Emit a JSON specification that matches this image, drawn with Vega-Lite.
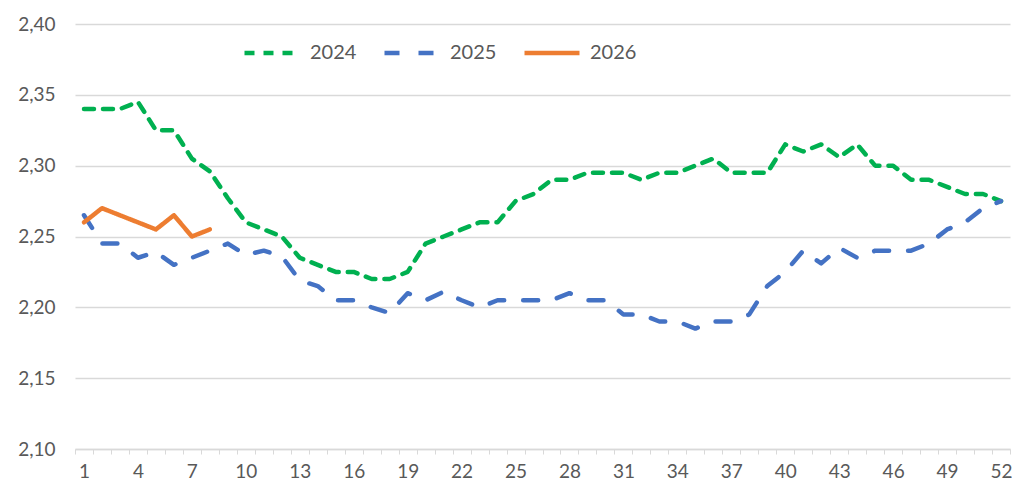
{
  "$schema": "https://vega.github.io/schema/vega-lite/v6.json",
  "width": 935,
  "height": 425,
  "autosize": "none",
  "padding": {"left": 75, "top": 24, "right": 2, "bottom": 41},
  "background": "white",
  "config": {
    "view": {"stroke": null},
    "font": "Lato",
    "axis": {"labelFont": "Lato", "labelColor": "#595959", "labelFontSize": 19},
    "legend": {"labelFont": "Lato", "labelColor": "#595959", "labelFontSize": 20}
  },
  "data": {"values": [
    {"week":1,"year":"2024","value":2.34},{"week":2,"year":"2024","value":2.34},{"week":3,"year":"2024","value":2.34},{"week":4,"year":"2024","value":2.345},{"week":5,"year":"2024","value":2.325},{"week":6,"year":"2024","value":2.325},{"week":7,"year":"2024","value":2.305},{"week":8,"year":"2024","value":2.296},{"week":9,"year":"2024","value":2.277},{"week":10,"year":"2024","value":2.26},{"week":11,"year":"2024","value":2.255},{"week":12,"year":"2024","value":2.25},{"week":13,"year":"2024","value":2.235},{"week":14,"year":"2024","value":2.23},{"week":15,"year":"2024","value":2.225},{"week":16,"year":"2024","value":2.225},{"week":17,"year":"2024","value":2.22},{"week":18,"year":"2024","value":2.22},{"week":19,"year":"2024","value":2.225},{"week":20,"year":"2024","value":2.245},{"week":21,"year":"2024","value":2.25},{"week":22,"year":"2024","value":2.255},{"week":23,"year":"2024","value":2.26},{"week":24,"year":"2024","value":2.26},{"week":25,"year":"2024","value":2.275},{"week":26,"year":"2024","value":2.28},{"week":27,"year":"2024","value":2.29},{"week":28,"year":"2024","value":2.29},{"week":29,"year":"2024","value":2.295},{"week":30,"year":"2024","value":2.295},{"week":31,"year":"2024","value":2.295},{"week":32,"year":"2024","value":2.29},{"week":33,"year":"2024","value":2.295},{"week":34,"year":"2024","value":2.295},{"week":35,"year":"2024","value":2.3},{"week":36,"year":"2024","value":2.305},{"week":37,"year":"2024","value":2.295},{"week":38,"year":"2024","value":2.295},{"week":39,"year":"2024","value":2.295},{"week":40,"year":"2024","value":2.315},{"week":41,"year":"2024","value":2.31},{"week":42,"year":"2024","value":2.315},{"week":43,"year":"2024","value":2.306},{"week":44,"year":"2024","value":2.315},{"week":45,"year":"2024","value":2.3},{"week":46,"year":"2024","value":2.3},{"week":47,"year":"2024","value":2.29},{"week":48,"year":"2024","value":2.29},{"week":49,"year":"2024","value":2.285},{"week":50,"year":"2024","value":2.28},{"week":51,"year":"2024","value":2.28},{"week":52,"year":"2024","value":2.275},
    {"week":1,"year":"2025","value":2.265},{"week":2,"year":"2025","value":2.245},{"week":3,"year":"2025","value":2.245},{"week":4,"year":"2025","value":2.235},{"week":5,"year":"2025","value":2.239},{"week":6,"year":"2025","value":2.23},{"week":7,"year":"2025","value":2.235},{"week":8,"year":"2025","value":2.24},{"week":9,"year":"2025","value":2.245},{"week":10,"year":"2025","value":2.237},{"week":11,"year":"2025","value":2.24},{"week":12,"year":"2025","value":2.236},{"week":13,"year":"2025","value":2.219},{"week":14,"year":"2025","value":2.215},{"week":15,"year":"2025","value":2.205},{"week":16,"year":"2025","value":2.205},{"week":17,"year":"2025","value":2.2},{"week":18,"year":"2025","value":2.196},{"week":19,"year":"2025","value":2.21},{"week":20,"year":"2025","value":2.205},{"week":21,"year":"2025","value":2.211},{"week":22,"year":"2025","value":2.205},{"week":23,"year":"2025","value":2.2},{"week":24,"year":"2025","value":2.205},{"week":25,"year":"2025","value":2.205},{"week":26,"year":"2025","value":2.205},{"week":27,"year":"2025","value":2.205},{"week":28,"year":"2025","value":2.21},{"week":29,"year":"2025","value":2.205},{"week":30,"year":"2025","value":2.205},{"week":31,"year":"2025","value":2.195},{"week":32,"year":"2025","value":2.195},{"week":33,"year":"2025","value":2.19},{"week":34,"year":"2025","value":2.19},{"week":35,"year":"2025","value":2.185},{"week":36,"year":"2025","value":2.19},{"week":37,"year":"2025","value":2.19},{"week":38,"year":"2025","value":2.195},{"week":39,"year":"2025","value":2.215},{"week":40,"year":"2025","value":2.225},{"week":41,"year":"2025","value":2.24},{"week":42,"year":"2025","value":2.231},{"week":43,"year":"2025","value":2.242},{"week":44,"year":"2025","value":2.235},{"week":45,"year":"2025","value":2.24},{"week":46,"year":"2025","value":2.24},{"week":47,"year":"2025","value":2.24},{"week":48,"year":"2025","value":2.245},{"week":49,"year":"2025","value":2.255},{"week":50,"year":"2025","value":2.26},{"week":51,"year":"2025","value":2.27},{"week":52,"year":"2025","value":2.275},
    {"week":1,"year":"2026","value":2.26},{"week":2,"year":"2026","value":2.27},{"week":3,"year":"2026","value":2.265},{"week":4,"year":"2026","value":2.26},{"week":5,"year":"2026","value":2.255},{"week":6,"year":"2026","value":2.265},{"week":7,"year":"2026","value":2.25},{"week":8,"year":"2026","value":2.255}
  ]},
  "mark": {"type": "line", "strokeWidth": 4.5, "strokeCap": "round", "strokeJoin": "round"},
  "encoding": {
    "x": {
      "field": "week", "type": "quantitative",
      "scale": {"domain": [0.5, 52.5], "nice": false, "zero": false},
      "axis": {
        "title": null, "grid": false,
        "values": [0.5,1.5,2.5,3.5,4.5,5.5,6.5,7.5,8.5,9.5,10.5,11.5,12.5,13.5,14.5,15.5,16.5,17.5,18.5,19.5,20.5,21.5,22.5,23.5,24.5,25.5,26.5,27.5,28.5,29.5,30.5,31.5,32.5,33.5,34.5,35.5,36.5,37.5,38.5,39.5,40.5,41.5,42.5,43.5,44.5,45.5,46.5,47.5,48.5,49.5,50.5,51.5,52.5],
        "labelExpr": "(datum.value - 0.5) % 3 == 0 && datum.value < 52 ? format(datum.value + 0.5, 'd') : ''",
        "labelOverlap": false,
        "labelOffset": 8.99,
        "labelBound": false,
        "labelFlush": false,
        "tickColor": "#d9d9d9", "tickSize": 5, "tickWidth": 1,
        "domainColor": "#d9d9d9", "domainWidth": 1.5,
        "labelPadding": 8
      }
    },
    "y": {
      "field": "value", "type": "quantitative",
      "scale": {"domain": [2.1, 2.4], "nice": false, "zero": false},
      "axis": {
        "title": null, "values": [2.1, 2.15, 2.2, 2.25, 2.3, 2.35, 2.4],
        "labelExpr": "replace(format(datum.value, '.2f'), '.', ',')",
        "domain": false, "ticks": false,
        "gridColor": "#d9d9d9", "gridWidth": 1.5,
        "labelPadding": 20
      }
    },
    "color": {
      "field": "year", "type": "nominal",
      "scale": {"domain": ["2024", "2025", "2026"], "range": ["#00B050", "#4472C4", "#ED7D31"]},
      "legend": {
        "title": null, "orient": "none", "direction": "horizontal",
        "legendX": 167, "legendY": -1,
        "symbolType": "stroke", "symbolSize": 3025, "symbolStrokeWidth": 4.5,
        "labelOffset": 8, "columnPadding": 18
      }
    },
    "strokeDash": {
      "field": "year", "type": "nominal",
      "scale": {"domain": ["2024", "2025", "2026"], "range": [[10, 9], [15, 19], [1, 0]]},
      "legend": null
    },
    "order": {"field": "week", "type": "quantitative"}
  }
}
